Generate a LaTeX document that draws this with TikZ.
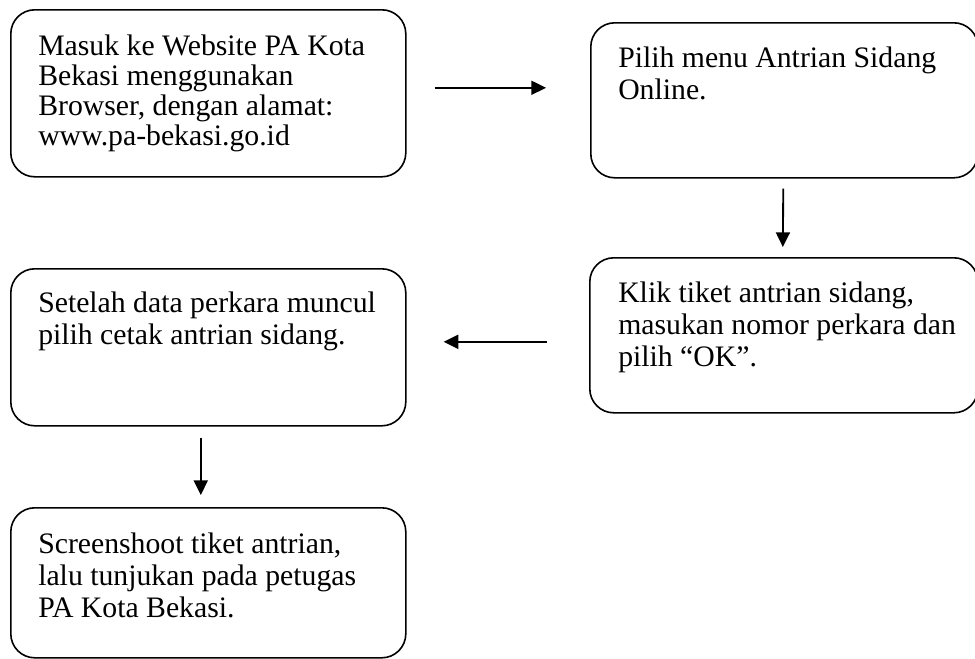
\documentclass[tikz,border=0pt]{standalone}
\usepackage{fontspec}
\setmainfont{Liberation Serif}
\usetikzlibrary{calc,arrows.meta}
\begin{document}
\begin{tikzpicture}[x=0.75pt,y=-0.75pt,
  box/.style={draw, line width=1.2pt, rounded corners=18pt, anchor=north west, inner sep=0pt},
  txt/.style={anchor=base west, inner sep=0pt, font=\fontsize{22.3}{24}\selectfont},
  arr/.style={line width=1.4pt, -{Triangle[length=11pt,width=10.5pt]}}]
\useasboundingbox (0,0) rectangle (975,658);
\clip (0,0) rectangle (975,658);
% boxes
\node[box, minimum width=296.25pt, minimum height=125.25pt] (b1) at (10,9) {};
\node[box, minimum width=290.25pt, minimum height=116.25pt] (b2) at (590,22) {};
\node[box, minimum width=291pt, minimum height=116.25pt] (b3) at (589,257) {};
\node[box, minimum width=296.25pt, minimum height=117.75pt] (b4) at (10,268) {};
\node[box, minimum width=296.25pt, minimum height=112.5pt] (b5) at (10,507) {};
% texts
\node[txt, font=\fontsize{22.3}{22.5}\selectfont] (t1) at ($(b1.north west)+(28,46)$) {\parbox[t]{320pt}{Masuk ke Website PA Kota\\Bekasi menggunakan\\Browser, dengan alamat:\\www.pa-bekasi.go.id}};
\node[txt] (t2) at ($(b2.north west)+(28,45)$) {\parbox[t]{320pt}{Pilih menu Antrian Sidang\\Online.}};
\node[txt] (t3) at ($(b3.north west)+(29,45)$) {\parbox[t]{320pt}{Klik tiket antrian sidang,\\masukan nomor perkara dan\\pilih “OK”.}};
\node[txt] (t4) at ($(b4.north west)+(28,44)$) {\parbox[t]{320pt}{Setelah data perkara muncul\\pilih cetak antrian sidang.}};
\node[txt] (t5) at ($(b5.north west)+(28,46)$) {\parbox[t]{320pt}{Screenshoot tiket antrian,\\lalu tunjukan pada petugas\\PA Kota Bekasi.}};
% arrows
\draw[arr] ($(b1.east)+(28,-5.5)$) -- ($(b2.west |- b1.east)+(-44,-5.5)$);
\draw[arr] ($(b2.south)+(-1,10)$) -- ($(b3.north)+(-1,-10)$);
\draw[arr] ($(b3.west)+(-42,6.5)$) -- ($(b4.east |- b3.west)+(37,6.5)$);
\draw[arr] ($(b4.south)+(-7.5,11)$) -- ($(b5.north)+(-7.5,-12)$);
\end{tikzpicture}
\end{document}
